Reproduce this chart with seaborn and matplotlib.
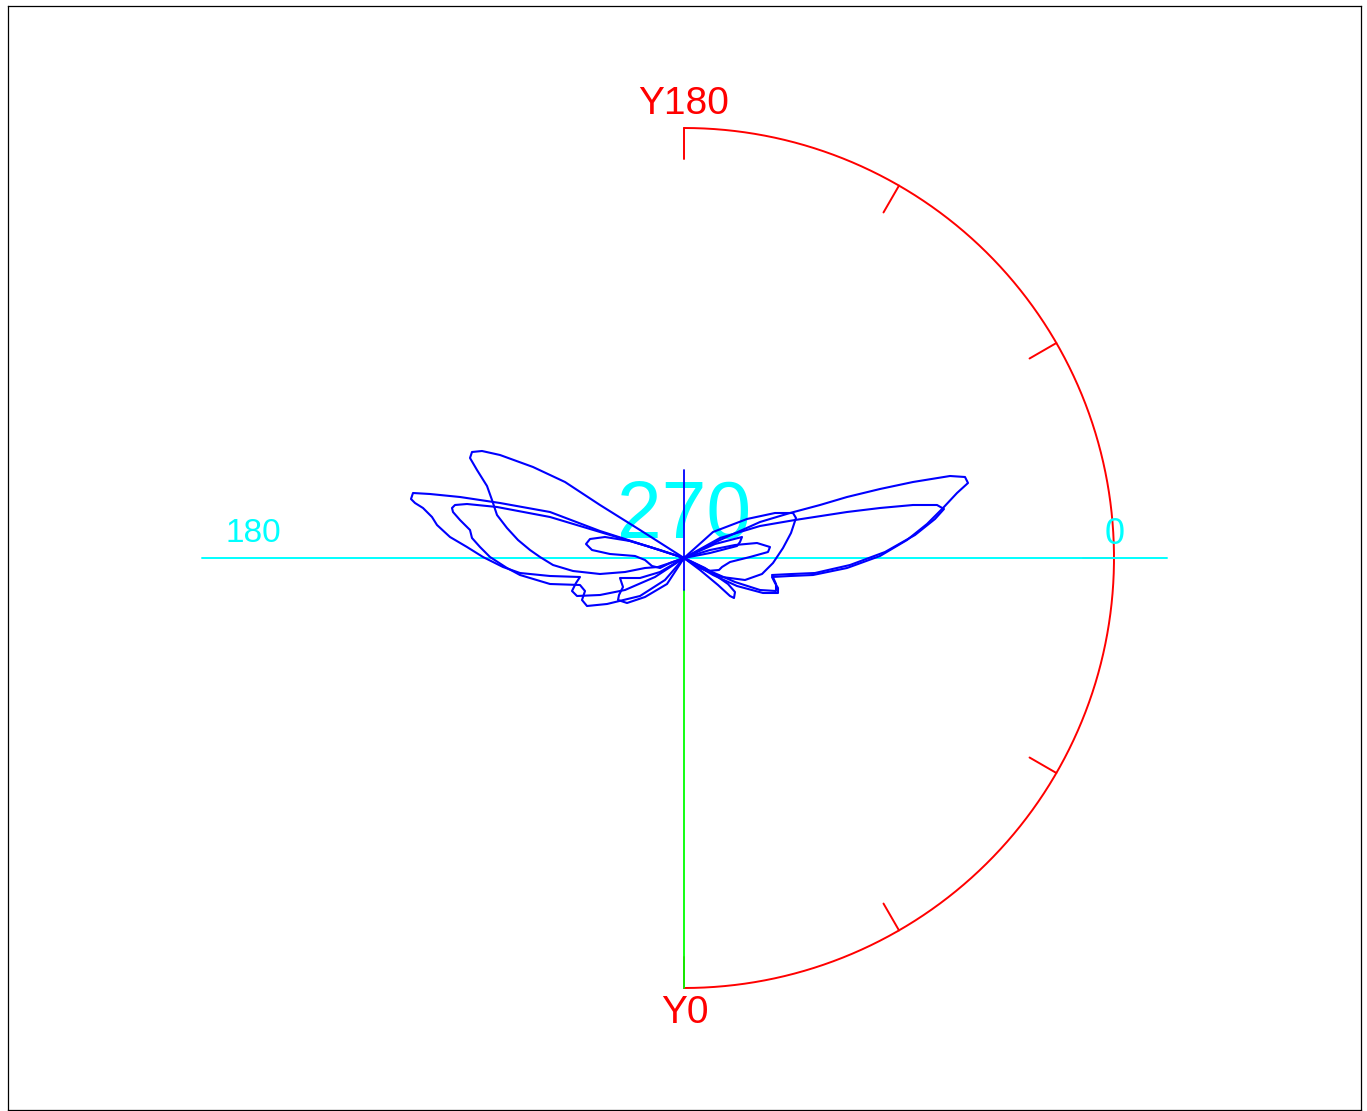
import numpy as np
import pandas as pd
import matplotlib
matplotlib.use("Agg")
import matplotlib.pyplot as plt
import seaborn as sns

# --- DATA: traced pattern lobes, offsets from the pattern centre (x right, y up) ---
lobe_a_x = [0, -44, -84, -119, -151, -184, -202, -212, -214, -207, -197, -192, -187, -177, -166, -154, -144, -131, -111, -84, -59, -39, -26, -14, 0]
lobe_a_y = [0, 28, 53, 76, 91, 103, 107, 106, 100, 88, 72, 58, 43, 30, 18, 8, 1, -7, -13, -16, -14, -10, -9, -5, 0]

lobe_b_x = [0, -34, -84, -134, -184, -224, -254, -271, -273, -269, -261, -252, -247, -234, -217, -201, -181, -164, -134, -104, -108, -112, -107, -84, -59, -29, 0]
lobe_b_y = [0, 11, 27, 46, 55, 61, 64, 65, 59, 55, 50, 41, 33, 21, 11, 1, -9, -15, -18, -19, -25, -33, -38, -37, -32, -19, 0]

lobe_c_x = [0, -34, -84, -134, -187, -217, -229, -232, -231, -224, -214, -212, -204, -194, -177, -164, -134, -104, -99, -102, -97, -77, -44, -19, 0]
lobe_c_y = [0, 11, 26, 41, 51, 54, 53, 50, 46, 38, 28, 20, 11, 1, -10, -17, -26, -27, -33, -42, -48, -46, -38, -22, 0]

lobe_d_x = [0, -24, -54, -79, -94, -98, -92, -74, -49, -39, -32, -24, -14, 0]
lobe_d_y = [0, 8, 17, 21, 19, 14, 8, 4, 2, -2, -8, -10, -5, 0]

lobe_e_x = [0, -24, -44, -64, -61, -65, -66, -57, -39, -17, 0]
lobe_e_y = [0, -14, -20, -20, -29, -37, -42, -45, -39, -26, 0]

lobe_r1_x = [0, 36, 76, 106, 136, 163, 196, 229, 266, 281, 284, 273, 259, 243, 223, 196, 163, 129, 106, 88, 91, 94, 94, 79, 53, 29, 0]
lobe_r1_y = [0, 18, 36, 45, 53, 61, 69, 76, 82, 81, 75, 65, 50, 34, 18, 2, -10, -17, -18, -19, -25, -30, -35, -35, -28, -17, 0]

lobe_r2_x = [0, 36, 76, 111, 163, 196, 229, 253, 260, 251, 231, 201, 166, 131, 108, 88, 92, 92, 76, 51, 28, 0]
lobe_r2_y = [0, 20, 32, 38, 46, 50, 53, 53, 49, 39, 23, 6, -7, -15, -16, -17, -26, -33, -32, -24, -14, 0]

lobe_r3_x = [0, 29, 63, 91, 109, 112, 107, 99, 89, 78, 61, 38, 16, 0]
lobe_r3_y = [0, 26, 39, 45, 45, 40, 25, 10, -5, -16, -22, -19, -10, 0]

lobe_r4_x = [0, 26, 51, 73, 86, 84, 66, 46, 38, 35, 23, 11, 0]
lobe_r4_y = [0, 8, 13, 15, 11, 6, 1, -4, -9, -12, -13, -7, 0]

lobe_r5_x = [0, 16, 34, 46, 50, 51, 44, 21, 0]
lobe_r5_y = [0, -12, -27, -38, -40, -34, -26, -10, 0]

lobe_r6_x = [0, 31, 58, 56, 53, 26, 0]
lobe_r6_y = [0, 14, 21, 16, 12, 5, 0]

LOBES = {
    "A": (lobe_a_x, lobe_a_y), "B": (lobe_b_x, lobe_b_y), "C": (lobe_c_x, lobe_c_y),
    "D": (lobe_d_x, lobe_d_y), "E": (lobe_e_x, lobe_e_y),
    "R1": (lobe_r1_x, lobe_r1_y), "R2": (lobe_r2_x, lobe_r2_y), "R3": (lobe_r3_x, lobe_r3_y),
    "R4": (lobe_r4_x, lobe_r4_y), "R5": (lobe_r5_x, lobe_r5_y), "R6": (lobe_r6_x, lobe_r6_y),
}

# scale labels
top_label = "Y180"
bottom_label = "Y0"
left_label = "180"
right_label = "0"
centre_label = "270"
tick_angles = [0, 30, 60, 90, 120, 150, 180]   # degrees, clockwise from top

# --- LAYOUT ---
R = 430          # red scale arc radius
TICK = 31
RED, CYAN, BLUE, GREEN = "#ff0000", "#00ffff", "#0000ff", "#00ff00"
FONT = ['Liberation Sans', 'DejaVu Sans']

sns.set_style("white")
fig = plt.figure(figsize=(13.67, 11.11), dpi=100)
ax = fig.add_axes([8 / 1367, 1 / 1111, 1353 / 1367, 1104 / 1111])
ax.set_xlim(-676, 677)
ax.set_ylim(-552, 552)
ax.set_xticks([])
ax.set_yticks([])
for sp in ax.spines.values():
    sp.set_color("black")
    sp.set_linewidth(0.9)

# red half-circle scale with ticks
th = np.linspace(np.pi / 2, -np.pi / 2, 400)
ax.plot(R * np.cos(th), R * np.sin(th), color=RED, lw=1.4, zorder=2)
for a in tick_angles:
    t = np.deg2rad(a)
    ax.plot([R * np.sin(t), (R - TICK) * np.sin(t)],
            [R * np.cos(t), (R - TICK) * np.cos(t)], color=RED, lw=1.4, zorder=2)

# axes lines
ax.plot([0, 0], [-32, -R], color=GREEN, lw=1.3, zorder=3)
ax.plot([0, 0], [88, -32], color=BLUE, lw=1.3, zorder=3)
ax.plot([-482, 483], [0, 0], color=CYAN, lw=1.4, zorder=3)

# labels
ax.text(0, 454, top_label, color=RED, fontsize=28, family=FONT, ha="center", va="center")
ax.text(1, -455, bottom_label, color=RED, fontsize=28, family=FONT, ha="center", va="center")
ax.text(-431, 24, left_label, color=CYAN, fontsize=24, family=FONT, ha="center", va="center")
ax.text(431, 24, right_label, color=CYAN, fontsize=26, family=FONT, ha="center", va="center")
ax.text(0, 41, centre_label, color=CYAN, fontsize=58, family=FONT, ha="center", va="center", zorder=1)

# pattern lobes
frames = []
for name, (xs, ys) in LOBES.items():
    frames.append(pd.DataFrame({"x": xs, "y": ys, "lobe": name, "order": range(len(xs))}))
df = pd.concat(frames, ignore_index=True)
sns.lineplot(data=df, x="x", y="y", units="lobe", estimator=None, sort=False,
             color=BLUE, lw=1.5, ax=ax, zorder=4, legend=False)
ax.set_xlabel("")
ax.set_ylabel("")

fig.savefig("out.png", dpi=100)
